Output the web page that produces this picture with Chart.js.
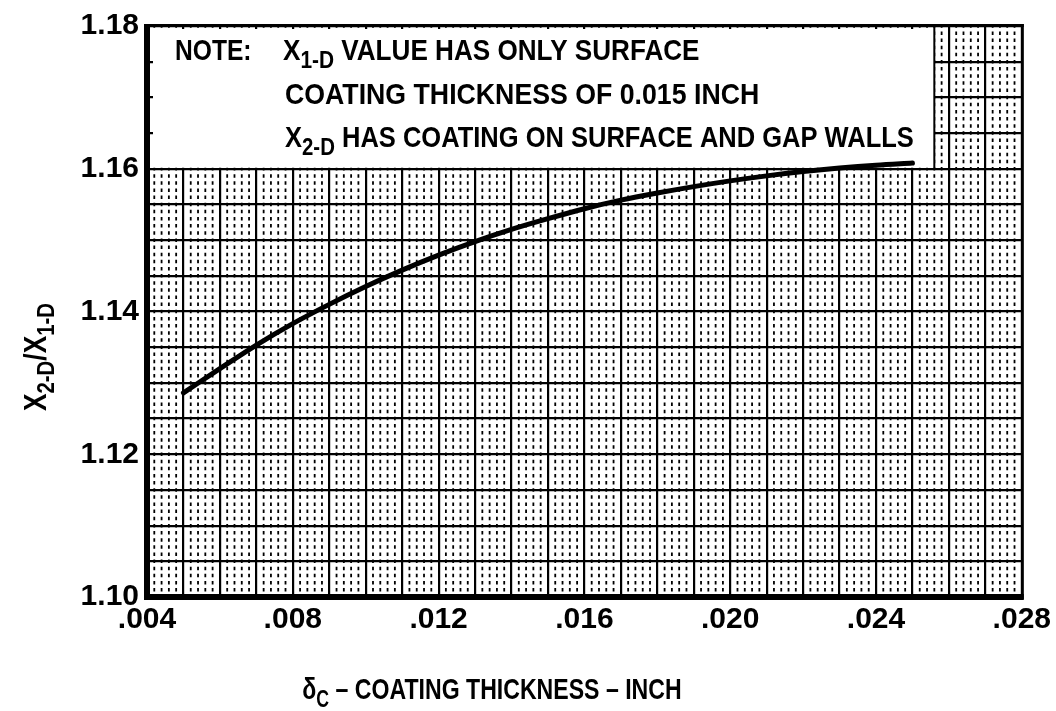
<!DOCTYPE html>
<html>
<head>
<meta charset="utf-8">
<script src="https://cdn.jsdelivr.net/npm/chart.js@4.4.1/dist/chart.umd.min.js"></script>
<style>
    html, body { margin: 0; padding: 0; background: #fff; }
    #wrap { width: 1056px; height: 711px; position: relative; }
</style>
</head>
<body>
<div id="wrap"><canvas id="grafico"></canvas></div>
<script>
// coating thickness (inch) and the ratio X2-D / X1-D
const espesor = [0.005, 0.006, 0.007, 0.008, 0.009, 0.010, 0.011, 0.012, 0.013, 0.014, 0.015,
    0.016, 0.017, 0.018, 0.019, 0.020, 0.021, 0.022, 0.023, 0.024, 0.025];
const razon = [1.1286, 1.1320, 1.1353, 1.1383, 1.1410, 1.1435, 1.1458, 1.1479, 1.1498, 1.1515, 1.1530,
    1.1544, 1.1556, 1.1566, 1.1575, 1.1583, 1.1590, 1.1596, 1.1601, 1.1605, 1.1608];

const xTicks = [0.004, 0.008, 0.012, 0.016, 0.020, 0.024, 0.028];
const xTickLabels = [".004", ".008", ".012", ".016", ".020", ".024", ".028"];
const yTicks = [1.10, 1.12, 1.14, 1.16, 1.18];
const yTickLabels = ["1.10", "1.12", "1.14", "1.16", "1.18"];

// note lines, each a list of [text, isSubscript]
const notaEncabezado = "NOTE:";
const notaLineas = [
    [["X", false], ["1-D", true], [" VALUE HAS ONLY SURFACE", false]],
    [["COATING THICKNESS OF 0.015 INCH", false]],
    [["X", false], ["2-D", true], [" HAS COATING ON SURFACE AND GAP WALLS", false]],
];
const tituloX = [["\u03B4", false], ["C", true], [" \u2013 COATING THICKNESS \u2013 INCH", false]];
const tituloY = [["X", false], ["2-D", true], ["/X", false], ["1-D", true]];

// narrow lettering: Liberation Sans bold squeezed horizontally
const fuente = (px) => `bold ${px}px 'Liberation Sans', Arial, sans-serif`;

const redondear = (v, n) => Math.round(v * n) / n;
const buscarEtiqueta = (valor, lista, etiquetas) => {
    const i = lista.findIndex((t) => Math.abs(t - valor) < 1e-7);
    return i >= 0 ? etiquetas[i] : "";
};

// writes a run of text with subscripts starting at x, returns the end x
const escribir = (ctx, x, y, partes, grande, chica, bajada, angosto) => {
    ctx.textBaseline = "alphabetic";
    ctx.textAlign = "left";
    for (const [texto, sub] of partes) {
        ctx.font = fuente(sub ? chica : grande);
        ctx.save();
        ctx.translate(x, sub ? y + bajada : y);
        ctx.scale(angosto, 1);
        ctx.fillText(texto, 0, 0);
        ctx.restore();
        x += ctx.measureText(texto).width * angosto;
    }
    return x;
};
const medir = (ctx, partes, grande, chica, angosto) => {
    let w = 0;
    for (const [texto, sub] of partes) {
        ctx.font = fuente(sub ? chica : grande);
        w += ctx.measureText(texto).width * angosto;
    }
    return w;
};

const papelGrafico = {
    id: "papelGrafico",
    beforeDatasetsDraw(chart) {
        const { ctx, chartArea: a, scales } = chart;
        const sx = scales.x, sy = scales.y;
        ctx.save();
        // fine dotted rulings every 0.0002 inch, dots every 0.001 in ratio
        const paso = Math.abs(sy.getPixelForValue(1.101) - sy.getPixelForValue(1.10));
        ctx.strokeStyle = "#000";
        ctx.lineWidth = 1.8;
        ctx.setLineDash([3.5, paso - 3.5]);
        ctx.lineDashOffset = 1.75;
        for (let i = 0; i <= 120; i++) {
            if (i % 5 === 0) continue;
            const px = sx.getPixelForValue(0.004 + i * 0.0002);
            ctx.beginPath();
            ctx.moveTo(px, a.bottom);
            ctx.lineTo(px, a.top);
            ctx.stroke();
        }
        ctx.setLineDash([]);

        // note box
        const bx2 = sx.getPixelForValue(0.0256);
        const by2 = sy.getPixelForValue(1.16);
        ctx.fillStyle = "#fff";
        ctx.fillRect(a.left + 6, a.top + 3, bx2 - a.left - 6, by2 - a.top - 4);
        ctx.strokeStyle = "#000";
        ctx.lineWidth = 2;
        ctx.beginPath();
        ctx.moveTo(bx2, a.top);
        ctx.lineTo(bx2, by2);
        ctx.stroke();

        ctx.fillStyle = "#000";
        escribir(ctx, 175, 60, [[notaEncabezado, false]], 30, 24, 8, 0.82);
        escribir(ctx, 283, 60, notaLineas[0], 30, 24, 8, 0.87);
        escribir(ctx, 285, 104, notaLineas[1], 30, 24, 8, 0.89);
        escribir(ctx, 285, 147, notaLineas[2], 30, 24, 8, 0.85);
        ctx.restore();
    },
    afterDatasetsDraw(chart) {
        const { ctx, chartArea: a } = chart;
        ctx.save();
        ctx.fillStyle = "#000";
        // heavy frame: thick on left and bottom
        ctx.fillRect(a.left - 3, a.top - 2, 6, a.bottom - a.top + 5);
        ctx.fillRect(a.left - 3, a.bottom - 3, a.right - a.left + 5, 6);
        ctx.fillRect(a.left - 3, a.top - 2, a.right - a.left + 5, 3);
        ctx.fillRect(a.right - 1, a.top - 2, 3, a.bottom - a.top + 4);

        // axis titles
        const wX = medir(ctx, tituloX, 30, 23, 0.77);
        escribir(ctx, 492 - wX / 2, 699, tituloX, 30, 23, 8, 0.77);

        ctx.translate(46, 357);
        ctx.rotate(-Math.PI / 2);
        const wY = medir(ctx, tituloY, 31, 24, 0.85);
        escribir(ctx, -wY / 2, 0, tituloY, 31, 24, 8, 0.85);
        ctx.restore();
    },
};

new Chart(document.getElementById("grafico").getContext("2d"), {
    type: "line",
    data: {
        datasets: [
            {
                data: espesor.map((x, i) => ({ x: x, y: razon[i] })),
                borderColor: "#000",
                borderWidth: 5,
                pointRadius: 0,
                fill: false,
                cubicInterpolationMode: "monotone",
                borderCapStyle: "round",
            },
        ],
    },
    options: {
        responsive: true,
        maintainAspectRatio: false,
        animation: false,
        devicePixelRatio: 1,
        layout: { padding: { left: 0, top: 22, right: 33, bottom: 0 } },
        plugins: { legend: { display: false }, tooltip: { enabled: false } },
        scales: {
            x: {
                type: "linear",
                min: 0.004,
                max: 0.028,
                afterBuildTicks: (scale) => {
                    const t = [];
                    for (let i = 0; i <= 24; i++) t.push({ value: redondear(0.004 + i * 0.001, 1e6) });
                    scale.ticks = t;
                },
                afterFit: (scale) => { scale.height = 114; },
                grid: { color: "#000", lineWidth: 2.2, drawTicks: false },
                border: { display: false },
                ticks: {
                    autoSkip: false,
                    maxRotation: 0,
                    padding: 5,
                    color: "#000",
                    font: { family: "'Liberation Sans'", size: 30, weight: "bold" },
                    callback: (v) => buscarEtiqueta(v, xTicks, xTickLabels),
                },
            },
            y: {
                type: "linear",
                min: 1.10,
                max: 1.18,
                afterBuildTicks: (scale) => {
                    const t = [];
                    for (let i = 0; i <= 16; i++) t.push({ value: redondear(1.10 + i * 0.005, 1e6) });
                    scale.ticks = t;
                },
                afterFit: (scale) => { scale.width = 147; },
                grid: { color: "#000", lineWidth: 2.2, drawTicks: false },
                border: { display: false },
                ticks: {
                    autoSkip: false,
                    padding: 8,
                    color: "#000",
                    font: { family: "'Liberation Sans'", size: 30, weight: "bold" },
                    callback: (v) => buscarEtiqueta(v, yTicks, yTickLabels),
                },
            },
        },
    },
    plugins: [papelGrafico],
});
</script>
</body>
</html>
